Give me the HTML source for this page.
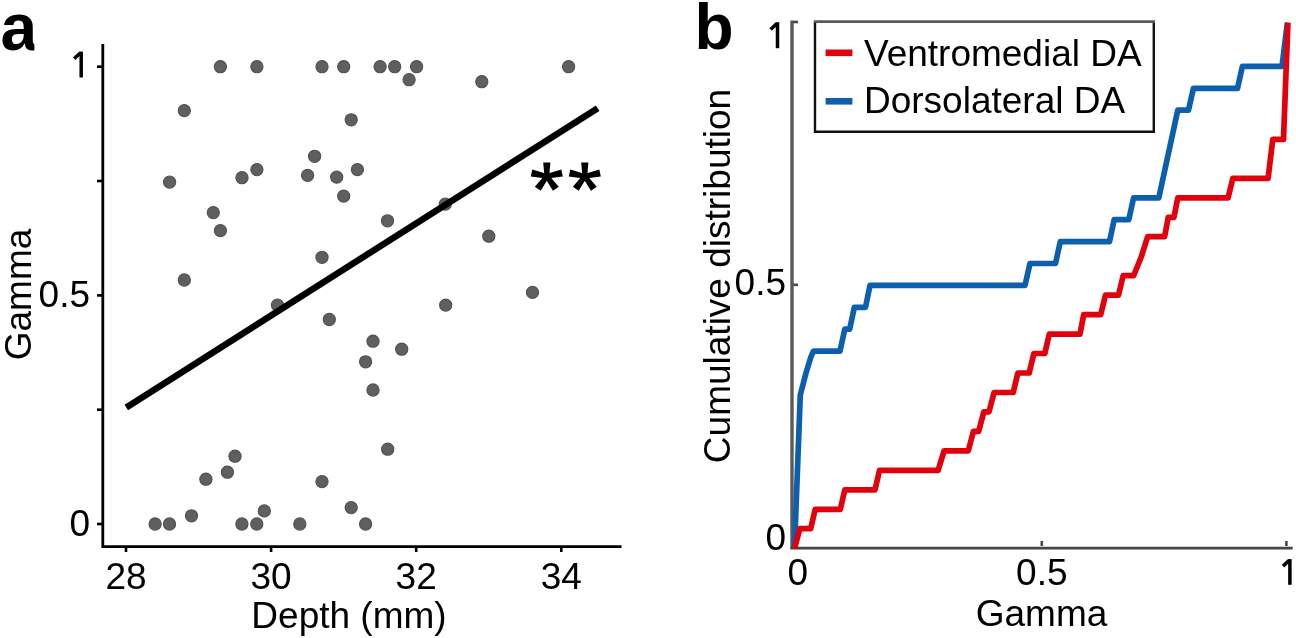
<!DOCTYPE html>
<html><head><meta charset="utf-8"><style>
html,body{margin:0;padding:0;background:#fff;width:1296px;height:638px;overflow:hidden}
svg{display:block;filter:blur(0.5px)}
text{font-family:"Liberation Sans", sans-serif;fill:#000}
</style></head><body>
<svg width="1296" height="638" viewBox="0 0 1296 638">
<defs><clipPath id="ca"><rect x="0" y="0" width="34.4" height="60"/></clipPath></defs>
<text x="0.5" y="50" font-size="66" font-weight="bold" clip-path="url(#ca)">a</text>
<circle cx="220.4" cy="66.7" r="6.1" fill="#5f5f5f" stroke="#505050" stroke-width="1.1"/>
<circle cx="256.9" cy="66.7" r="6.1" fill="#5f5f5f" stroke="#505050" stroke-width="1.1"/>
<circle cx="322" cy="66.7" r="6.1" fill="#5f5f5f" stroke="#505050" stroke-width="1.1"/>
<circle cx="343.7" cy="66.7" r="6.1" fill="#5f5f5f" stroke="#505050" stroke-width="1.1"/>
<circle cx="380.1" cy="66.7" r="6.1" fill="#5f5f5f" stroke="#505050" stroke-width="1.1"/>
<circle cx="394.7" cy="66.7" r="6.1" fill="#5f5f5f" stroke="#505050" stroke-width="1.1"/>
<circle cx="416.6" cy="66.7" r="6.1" fill="#5f5f5f" stroke="#505050" stroke-width="1.1"/>
<circle cx="568.6" cy="66.7" r="6.1" fill="#5f5f5f" stroke="#505050" stroke-width="1.1"/>
<circle cx="409.1" cy="79.7" r="6.1" fill="#5f5f5f" stroke="#505050" stroke-width="1.1"/>
<circle cx="481.8" cy="81.7" r="6.1" fill="#5f5f5f" stroke="#505050" stroke-width="1.1"/>
<circle cx="184.3" cy="110.6" r="6.1" fill="#5f5f5f" stroke="#505050" stroke-width="1.1"/>
<circle cx="351.2" cy="119.8" r="6.1" fill="#5f5f5f" stroke="#505050" stroke-width="1.1"/>
<circle cx="314.6" cy="156.3" r="6.1" fill="#5f5f5f" stroke="#505050" stroke-width="1.1"/>
<circle cx="256.9" cy="169.6" r="6.1" fill="#5f5f5f" stroke="#505050" stroke-width="1.1"/>
<circle cx="357.4" cy="169.6" r="6.1" fill="#5f5f5f" stroke="#505050" stroke-width="1.1"/>
<circle cx="307.6" cy="175.4" r="6.1" fill="#5f5f5f" stroke="#505050" stroke-width="1.1"/>
<circle cx="242" cy="177.7" r="6.1" fill="#5f5f5f" stroke="#505050" stroke-width="1.1"/>
<circle cx="336.7" cy="177.1" r="6.1" fill="#5f5f5f" stroke="#505050" stroke-width="1.1"/>
<circle cx="169.6" cy="182.1" r="6.1" fill="#5f5f5f" stroke="#505050" stroke-width="1.1"/>
<circle cx="343.7" cy="196.1" r="6.1" fill="#5f5f5f" stroke="#505050" stroke-width="1.1"/>
<circle cx="445.3" cy="204.1" r="6.1" fill="#5f5f5f" stroke="#505050" stroke-width="1.1"/>
<circle cx="213.3" cy="212.6" r="6.1" fill="#5f5f5f" stroke="#505050" stroke-width="1.1"/>
<circle cx="387.5" cy="220.8" r="6.1" fill="#5f5f5f" stroke="#505050" stroke-width="1.1"/>
<circle cx="220.4" cy="230.6" r="6.1" fill="#5f5f5f" stroke="#505050" stroke-width="1.1"/>
<circle cx="488.8" cy="236.2" r="6.1" fill="#5f5f5f" stroke="#505050" stroke-width="1.1"/>
<circle cx="322" cy="257.3" r="6.1" fill="#5f5f5f" stroke="#505050" stroke-width="1.1"/>
<circle cx="184.3" cy="280" r="6.1" fill="#5f5f5f" stroke="#505050" stroke-width="1.1"/>
<circle cx="532.5" cy="292.4" r="6.1" fill="#5f5f5f" stroke="#505050" stroke-width="1.1"/>
<circle cx="277.5" cy="305.1" r="6.1" fill="#5f5f5f" stroke="#505050" stroke-width="1.1"/>
<circle cx="445.7" cy="305.1" r="6.1" fill="#5f5f5f" stroke="#505050" stroke-width="1.1"/>
<circle cx="329.3" cy="319.5" r="6.1" fill="#5f5f5f" stroke="#505050" stroke-width="1.1"/>
<circle cx="373" cy="341.2" r="6.1" fill="#5f5f5f" stroke="#505050" stroke-width="1.1"/>
<circle cx="401.7" cy="349.2" r="6.1" fill="#5f5f5f" stroke="#505050" stroke-width="1.1"/>
<circle cx="365.6" cy="361.8" r="6.1" fill="#5f5f5f" stroke="#505050" stroke-width="1.1"/>
<circle cx="373" cy="390" r="6.1" fill="#5f5f5f" stroke="#505050" stroke-width="1.1"/>
<circle cx="387.7" cy="449.2" r="6.1" fill="#5f5f5f" stroke="#505050" stroke-width="1.1"/>
<circle cx="235" cy="456.2" r="6.1" fill="#5f5f5f" stroke="#505050" stroke-width="1.1"/>
<circle cx="227.4" cy="472.2" r="6.1" fill="#5f5f5f" stroke="#505050" stroke-width="1.1"/>
<circle cx="205.9" cy="479.2" r="6.1" fill="#5f5f5f" stroke="#505050" stroke-width="1.1"/>
<circle cx="322" cy="481.6" r="6.1" fill="#5f5f5f" stroke="#505050" stroke-width="1.1"/>
<circle cx="351.2" cy="507.6" r="6.1" fill="#5f5f5f" stroke="#505050" stroke-width="1.1"/>
<circle cx="264.3" cy="510.9" r="6.1" fill="#5f5f5f" stroke="#505050" stroke-width="1.1"/>
<circle cx="191.5" cy="515.8" r="6.1" fill="#5f5f5f" stroke="#505050" stroke-width="1.1"/>
<circle cx="155.1" cy="524" r="6.1" fill="#5f5f5f" stroke="#505050" stroke-width="1.1"/>
<circle cx="169.5" cy="524" r="6.1" fill="#5f5f5f" stroke="#505050" stroke-width="1.1"/>
<circle cx="241.9" cy="524" r="6.1" fill="#5f5f5f" stroke="#505050" stroke-width="1.1"/>
<circle cx="256.8" cy="524" r="6.1" fill="#5f5f5f" stroke="#505050" stroke-width="1.1"/>
<circle cx="299.8" cy="524" r="6.1" fill="#5f5f5f" stroke="#505050" stroke-width="1.1"/>
<circle cx="365.6" cy="524" r="6.1" fill="#5f5f5f" stroke="#505050" stroke-width="1.1"/>
<line x1="126.3" y1="407.4" x2="597.7" y2="108.2" stroke="#000" stroke-width="6.5"/>
<path d="M549.15 176.30 L550.40 162.50 L543.20 162.50 L544.45 176.30ZM547.29 174.00 L532.29 169.54 L530.79 176.58 L546.31 178.60ZM547.29 178.60 L562.81 176.58 L561.31 169.54 L546.31 174.00ZM544.90 174.92 L534.84 186.64 L540.66 190.87 L548.70 177.68ZM544.90 177.68 L552.94 190.87 L558.76 186.64 L548.70 174.92ZM587.15 176.30 L588.40 162.50 L581.20 162.50 L582.45 176.30ZM585.29 174.00 L570.29 169.54 L568.79 176.58 L584.31 178.60ZM585.29 178.60 L600.81 176.58 L599.31 169.54 L584.31 174.00ZM582.90 174.92 L572.84 186.64 L578.66 190.87 L586.70 177.68ZM582.90 177.68 L590.94 190.87 L596.76 186.64 L586.70 174.92Z" fill="#000"/>
<circle cx="546.8" cy="176.3" r="3.2"/><circle cx="584.8" cy="176.3" r="3.2"/>
<path d="M102.8 44 V546.6 H621.5" fill="none" stroke="#000" stroke-width="2.8"/>
<line x1="97" y1="524.0" x2="102" y2="524.0" stroke="#000" stroke-width="2.6"/>
<line x1="97" y1="409.7" x2="102" y2="409.7" stroke="#000" stroke-width="2.6"/>
<line x1="97" y1="295.4" x2="102" y2="295.4" stroke="#000" stroke-width="2.6"/>
<line x1="97" y1="181.0" x2="102" y2="181.0" stroke="#000" stroke-width="2.6"/>
<line x1="97" y1="66.7" x2="102" y2="66.7" stroke="#000" stroke-width="2.6"/>
<line x1="126.0" y1="547" x2="126.0" y2="552" stroke="#000" stroke-width="2.6"/>
<line x1="271.1" y1="547" x2="271.1" y2="552" stroke="#000" stroke-width="2.6"/>
<line x1="416.2" y1="547" x2="416.2" y2="552" stroke="#000" stroke-width="2.6"/>
<line x1="561.3" y1="547" x2="561.3" y2="552" stroke="#000" stroke-width="2.6"/>
<text x="90" y="536.0" font-size="37" text-anchor="end">0</text>
<text x="90" y="307.4" font-size="37" text-anchor="end">0.5</text>
<path d="M81.2 51.6 V77.5" stroke="#000" stroke-width="3.5" fill="none"/><path d="M74.2 58.6 L80.6 52.8" stroke="#000" stroke-width="3.5" fill="none" stroke-linecap="butt"/>
<text x="126.0" y="589" font-size="37" text-anchor="middle">28</text>
<text x="271.1" y="589" font-size="37" text-anchor="middle">30</text>
<text x="416.2" y="589" font-size="37" text-anchor="middle">32</text>
<text x="561.3" y="589" font-size="37" text-anchor="middle">34</text>
<text x="349" y="628" font-size="37" text-anchor="middle">Depth (mm)</text>
<text transform="translate(31,294.5) rotate(-90)" x="0" y="0" font-size="37" text-anchor="middle">Gamma</text>
<text x="694.5" y="49" font-size="64" font-weight="bold">b</text>
<line x1="792" y1="20.4" x2="792" y2="548" stroke="#5a5a5a" stroke-width="3.4"/>
<line x1="790.3" y1="548.1" x2="1292.7" y2="548.1" stroke="#454545" stroke-width="2.8"/>
<line x1="793" y1="22" x2="798" y2="22" stroke="#484848" stroke-width="2.6"/>
<line x1="793" y1="284.8" x2="798" y2="284.8" stroke="#484848" stroke-width="2.6"/>
<line x1="1041.8" y1="546" x2="1041.8" y2="541" stroke="#484848" stroke-width="2.6"/>
<line x1="1286.4" y1="546" x2="1286.4" y2="541" stroke="#484848" stroke-width="2.6"/>
<polyline points="794.5,548.2 800.3,394.9 806.0,373.0 811.0,356.6 813.5,351.1 840.0,351.1 844.8,329.2 849.7,329.2 854.3,307.3 865.5,307.3 870.0,285.4 1025.0,285.4 1030.0,263.5 1055.5,263.5 1060.3,241.6 1109.5,241.6 1114.2,219.7 1128.8,219.7 1133.6,197.8 1158.8,197.8 1177.8,110.2 1188.5,110.2 1193.4,88.3 1237.5,88.3 1242.4,66.4 1282.0,66.4 1287.4,22.6" fill="none" stroke="#0b5fac" stroke-width="5.7" stroke-linejoin="round"/>
<polyline points="794.6,548.2 799.8,528.7 810.7,528.7 815.2,509.3 840.3,509.3 844.8,489.8 875.0,489.8 879.5,470.3 938.1,470.3 944.1,450.9 968.3,450.9 973.4,431.4 978.6,431.4 983.8,411.9 989.0,411.9 994.1,392.5 1013.2,392.5 1017.9,373.0 1029.2,373.0 1033.9,353.5 1044.8,353.5 1049.3,334.1 1080.0,334.1 1083.7,314.6 1100.7,314.6 1105.5,295.1 1118.5,295.1 1123.2,275.7 1133.6,275.7 1141.5,256.2 1147.7,236.7 1164.6,236.7 1168.3,217.3 1174.0,217.3 1177.8,197.8 1228.1,197.8 1232.8,178.3 1268.1,178.3 1272.8,139.4 1283.5,139.4 1287.9,22.6" fill="none" stroke="#e1000c" stroke-width="5.7" stroke-linejoin="round"/>
<path d="M777.5 22.2 V48.2" stroke="#000" stroke-width="3.5" fill="none"/><path d="M770.6 29.4 L776.9 23.4" stroke="#000" stroke-width="3.5" fill="none" stroke-linecap="butt"/>
<text x="786" y="295" font-size="37" text-anchor="end">0.5</text>
<text x="786" y="550" font-size="37" text-anchor="end">0</text>
<path d="M1289.9 559.1 V584.8" stroke="#000" stroke-width="3.5" fill="none"/><path d="M1283.0 566.1 L1289.3 560.3" stroke="#000" stroke-width="3.5" fill="none" stroke-linecap="butt"/>
<text x="797.9" y="585" font-size="37" text-anchor="middle">0</text>
<text x="1041.8" y="585" font-size="37" text-anchor="middle">0.5</text>
<text x="1041.5" y="625.5" font-size="37" text-anchor="middle">Gamma</text>
<text transform="translate(730,276) rotate(-90)" x="0" y="0" font-size="37" text-anchor="middle">Cumulative distribution</text>
<path d="M815 21.5 V131.8 H1153.8 V21.5" fill="none" stroke="#111" stroke-width="2.4"/>
<line x1="813.8" y1="21.6" x2="1155" y2="21.6" stroke="#5a5a5a" stroke-width="2.8"/>
<line x1="825.6" y1="52.8" x2="852.4" y2="52.8" stroke="#e1000c" stroke-width="6.6"/>
<line x1="825.6" y1="101.3" x2="852.4" y2="101.3" stroke="#0b5fac" stroke-width="6.6"/>
<text x="864" y="66" font-size="37">Ventromedial DA</text>
<text x="864" y="113.2" font-size="37">Dorsolateral DA</text>
</svg>
</body></html>
